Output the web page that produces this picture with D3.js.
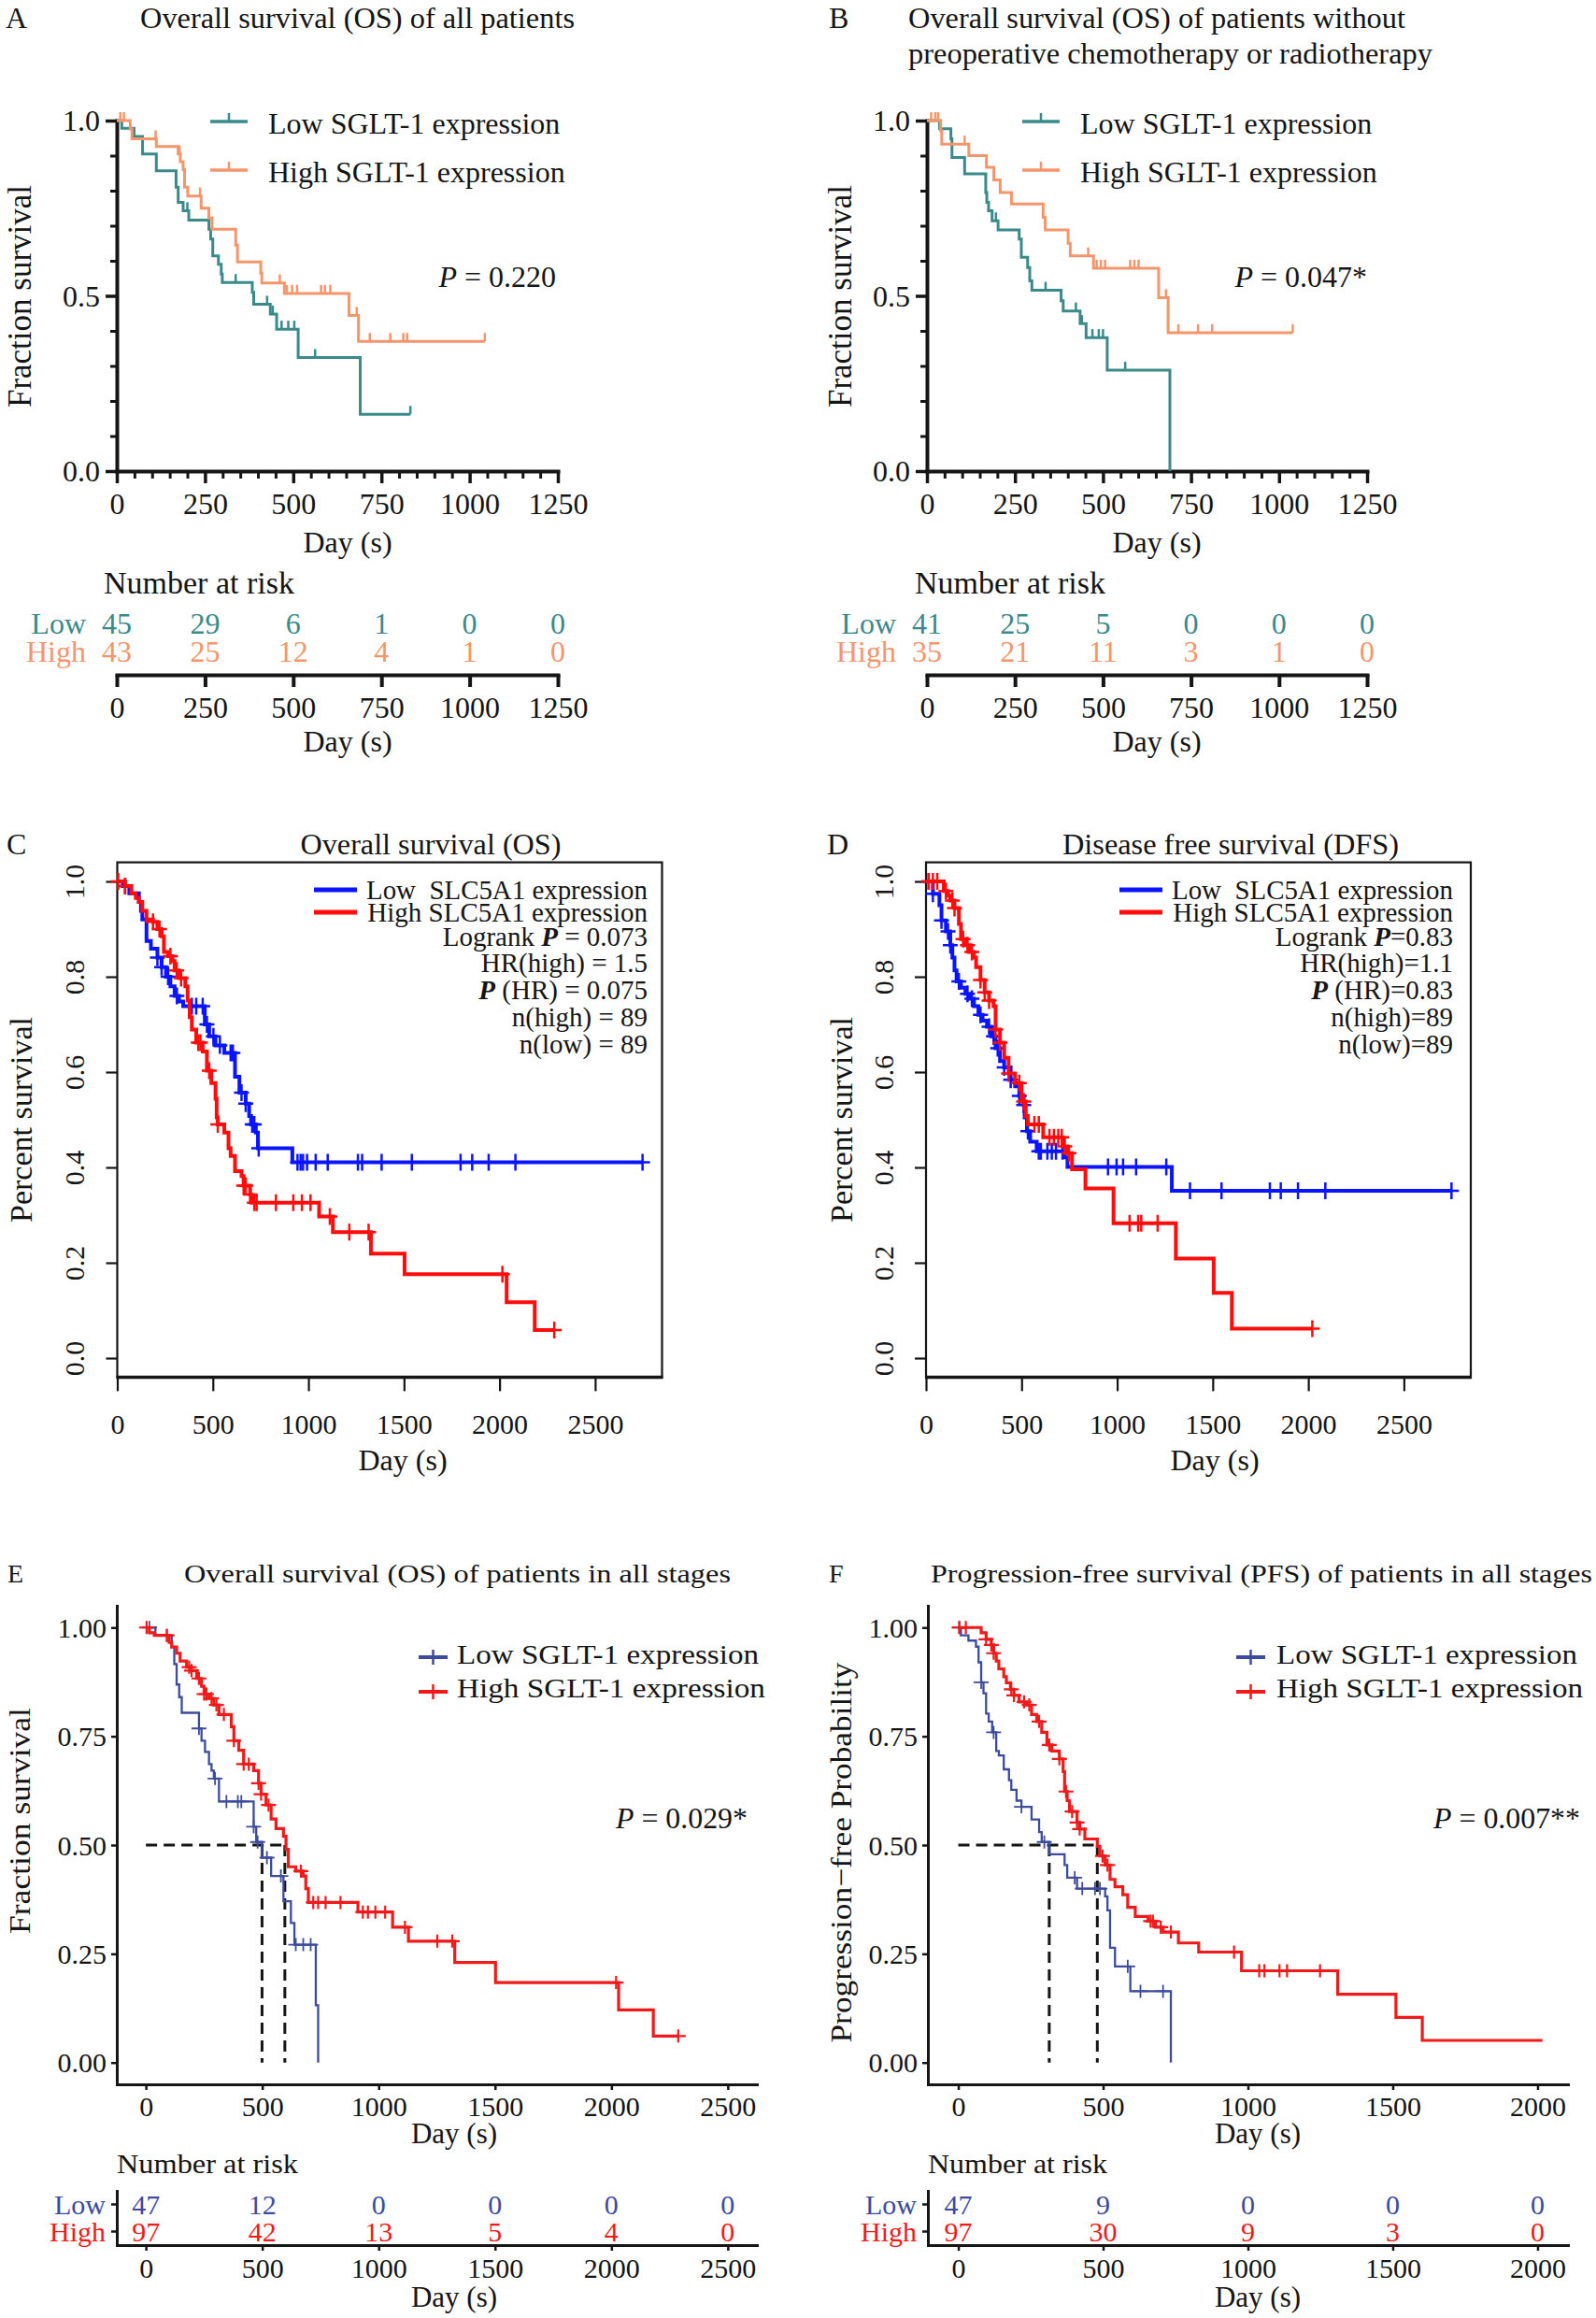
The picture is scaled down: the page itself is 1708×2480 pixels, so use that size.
<!DOCTYPE html>
<html><head><meta charset="utf-8">
<script src="https://cdn.jsdelivr.net/npm/d3@7"></script>
<style>body{margin:0;background:#fff}</style>
</head><body>
<svg id="fig" width="1708" height="2480" style="background:#fff"></svg>
<script>
// ================= DATA =================
// Panel A – Overall survival of all patients
const A_lowT  = [14,49,73,112,168,174,188,204,261,266,272,288,296,299,384,388,435,453,514,690];
const A_lowS  = [0.978,0.955,0.905,0.857,0.81,0.767,0.743,0.716,0.69,0.662,0.614,0.59,0.562,0.538,0.51,0.476,0.448,0.405,0.324,0.162];
const A_lowC  = [200,337,426,442,467,486,503,562,832];
const A_lowEnd = 832;
const A_highT = [38,43,112,174,180,188,192,201,239,261,270,337,342,408,411,475,658,685];
const A_highS = [0.976,0.948,0.926,0.905,0.883,0.86,0.81,0.785,0.75,0.722,0.69,0.645,0.597,0.565,0.537,0.507,0.444,0.37];
const A_highC = [10,20,110,178,236,462,482,497,511,579,590,605,680,717,775,812,823,1043];
const A_highEnd = 1043;
// Panel B – OS without preoperative therapy
const B_lowT  = [36,68,71,107,167,170,175,185,202,262,268,286,292,298,381,387,435,452,512,690];
const B_lowS  = [0.977,0.948,0.895,0.848,0.795,0.767,0.743,0.714,0.688,0.662,0.61,0.581,0.543,0.516,0.486,0.457,0.421,0.381,0.288,0];
const B_lowC  = [196,337,423,440,470,488,500,563];
const B_lowEnd = 690;
const B_highT = [39,42,119,169,190,208,240,330,336,401,407,473,658,685];
const B_highS = [0.971,0.933,0.9,0.867,0.831,0.795,0.762,0.724,0.688,0.65,0.614,0.579,0.495,0.395];
const B_highC = [12,24,32,107,458,482,494,506,577,589,601,679,714,770,810,1039];
const B_highEnd = 1039;
// risk tables A/B
const riskTicksAB = [0,250,500,750,1000,1250];
const A_riskLow  = [45,29,6,1,0,0];
const A_riskHigh = [43,25,12,4,1,0];
const B_riskLow  = [41,25,5,0,0,0];
const B_riskHigh = [35,21,11,3,1,0];
const minorTicksAB = [50,100,150,200,300,350,400,450,550,600,650,700,800,850,900,950,1050,1100,1150,1200];
const yMajorAB = [0,0.5,1];
const yMinorAB = [0.1,0.2,0.3,0.4,0.6,0.7,0.8,0.9];
const pValues = ["0.220","0.047*","0.029*","0.007**"];

// Panel C – OS (SLC5A1)
const C_lowT  = [29,63,113,124,131,153,176,210,232,255,278,300,323,345,458,481,514,560,616,639,672,690,700,725,736,916];
const C_lowS  = [0.99,0.975,0.957,0.938,0.92,0.875,0.859,0.84,0.82,0.8,0.78,0.76,0.748,0.738,0.7,0.675,0.656,0.64,0.59,0.557,0.534,0.508,0.49,0.473,0.44,0.411];
const C_lowC  = [41,210,232,266,312,390,413,447,469,503,537,593,605,650,672,706,717,740,943,959,972,993,1038,1101,1259,1281,1383,1541,1796,1857,1943,2083,2748];
const C_lowEnd = 2748;
const C_highT = [41,74,97,113,131,153,187,210,232,244,266,289,300,323,356,368,379,390,413,447,469,492,514,520,526,560,582,593,616,650,661,695,702,1056,1128,1327,1503,2037,2184];
const C_highS = [0.99,0.975,0.965,0.957,0.938,0.92,0.915,0.9,0.885,0.852,0.843,0.833,0.813,0.797,0.78,0.75,0.715,0.689,0.662,0.643,0.603,0.577,0.544,0.505,0.49,0.473,0.44,0.424,0.392,0.382,0.362,0.343,0.326,0.297,0.264,0.219,0.176,0.117,0.059];
const C_highC = [5,41,187,221,278,311,334,424,435,481,526,661,672,695,717,729,830,921,966,1011,1112,1214,1315,2015,2286];
const C_highEnd = 2286;
const C_stats = ["0.073","1.5","0.075","89","89"];
// Panel D – DFS (SLC5A1)
const D_lowT  = [36,70,81,104,127,138,149,160,183,206,228,251,274,296,319,341,364,387,409,443,466,488,511,516,528,545,579,726,740,1286];
const D_lowS  = [0.974,0.95,0.918,0.895,0.866,0.84,0.813,0.79,0.777,0.764,0.754,0.738,0.72,0.708,0.695,0.675,0.65,0.623,0.61,0.584,0.57,0.55,0.531,0.505,0.476,0.454,0.434,0.421,0.401,0.351];
const D_lowC  = [14,36,81,115,127,172,217,240,285,330,353,375,409,443,488,511,533,590,601,635,658,680,714,952,997,1031,1099,1257,1381,1546,1799,1856,1946,2089,2749];
const D_lowEnd = 2749;
const D_highT = [93,115,127,149,172,183,206,228,251,262,285,307,330,353,364,387,409,432,466,500,522,533,613,714,737,764,834,981,1307,1505,1600];
const D_highS = [0.98,0.97,0.96,0.944,0.911,0.879,0.866,0.852,0.84,0.82,0.793,0.767,0.75,0.738,0.689,0.662,0.63,0.597,0.577,0.538,0.508,0.49,0.463,0.444,0.43,0.396,0.356,0.283,0.209,0.137,0.062];
const D_highC = [14,36,59,104,138,149,194,217,240,285,307,330,364,387,432,488,511,567,590,646,669,692,710,726,748,1065,1110,1126,1212,2021];
const D_highEnd = 2021;
const D_stats = ["0.83","1.1","0.83","89","89"];
const xTicksCD = [0,500,1000,1500,2000,2500];
const yTicksCD = [0,0.2,0.4,0.6,0.8,1.0];

// Panel E – OS all stages
const E_lowT  = [41,111,122,132,143,154,228,239,254,271,282,292,314,463,474,498,538,591,623,638,730,740];
const E_lowS  = [0.982,0.955,0.916,0.869,0.84,0.804,0.768,0.74,0.714,0.686,0.671,0.653,0.6,0.542,0.507,0.471,0.429,0.371,0.321,0.271,0.132,0];
const E_lowC  = [15,90,228,297,346,395,410,463,480,520,580,644,676,708];
const E_lowEnd = 740;
const E_highT = [15,36,100,111,132,147,175,196,218,239,250,271,292,314,367,378,399,420,463,484,495,516,538,559,591,602,612,644,676,687,698,911,1060,1128,1327,1502,2031,2180];
const E_highS = [0.988,0.982,0.966,0.955,0.941,0.923,0.909,0.901,0.883,0.865,0.847,0.837,0.822,0.8,0.772,0.74,0.718,0.686,0.671,0.642,0.617,0.592,0.56,0.538,0.52,0.49,0.45,0.44,0.429,0.4,0.368,0.346,0.311,0.279,0.23,0.184,0.121,0.061];
const E_highC = [3,90,186,196,228,250,260,282,303,335,378,420,442,484,495,527,666,719,740,772,836,932,954,986,1028,1113,1252,1316,2020,2287];
const E_highEnd = 2287;
const E_medians = [499,597];
const riskTicksE = [0,500,1000,1500,2000,2500];
const E_riskLow  = [47,12,0,0,0,0];
const E_riskHigh = [97,42,13,5,4,0];
// Panel F – PFS all stages
const F_lowT  = [9,35,61,70,79,87,96,105,117,131,140,157,175,183,201,218,253,279,288,314,367,376,410,507,515,524,541,594,734];
const F_lowS  = [0.982,0.97,0.956,0.92,0.874,0.849,0.802,0.784,0.759,0.716,0.706,0.674,0.649,0.627,0.602,0.588,0.559,0.53,0.507,0.479,0.454,0.425,0.4,0.382,0.35,0.264,0.221,0.164,0];
const F_lowC  = [4,79,122,218,297,402,428,472,489,585,629,707];
const F_lowEnd = 734;
const F_highT = [79,96,114,122,131,140,157,166,180,192,210,236,253,271,288,306,323,349,362,367,376,384,410,419,437,480,489,507,524,541,568,585,611,655,681,707,760,830,978,1310,1511,1602];
const F_highS = [0.988,0.973,0.96,0.941,0.923,0.905,0.887,0.873,0.858,0.844,0.829,0.822,0.8,0.784,0.759,0.73,0.716,0.698,0.669,0.623,0.602,0.577,0.552,0.537,0.514,0.497,0.475,0.454,0.421,0.404,0.386,0.357,0.336,0.325,0.311,0.3,0.275,0.254,0.211,0.157,0.104,0.051];
const F_highC = [3,26,96,114,122,183,192,227,245,279,314,349,372,393,410,419,498,515,664,672,699,734,952,1039,1057,1109,1135,1249];
const F_highEnd = 2017;
const F_medians = [314,480];
const riskTicksF = [0,500,1000,1500,2000];
const F_riskLow  = [47,9,0,0,0];
const F_riskHigh = [97,30,9,3,0];
const yTicksEF = [0,0.25,0.5,0.75,1];

// ================= STYLE =================
const FONT = '"Liberation Serif","Times New Roman",Times,serif';
const INK = "#151515";
const TEAL = "#3a8a8c", ORANGE = "#f4956b";
const BLUE_R = "#0a14ff", RED_R = "#ff0c0c";
const BLUE_G = "#3c4b9e", RED_G = "#f01a1a";
const fmtInt = d3.format("d");
const svg = d3.select("#fig");

function txt(g, x, y, content, o = {}) {
  const fs = o.fs || 30;
  const t = g.append("text").attr("x", x).attr("y", y + 0.34 * fs)
    .attr("font-family", FONT).attr("font-size", fs)
    .attr("text-anchor", o.anchor || "start").attr("fill", o.fill || INK)
    .style("white-space", "pre");
  if (o.rot) t.attr("transform", `rotate(-90 ${x} ${y})`);
  const parts = typeof content === "string" ? [content] : content;
  parts.forEach(p => {
    const s = typeof p === "string" ? [p] : p;
    const ts = t.append("tspan").text(s[0]);
    if (s[1] === "i") ts.attr("font-style", "italic");
    if (s[1] === "bi") ts.attr("font-style", "italic").attr("font-weight", "bold");
  });
  if (o.len) t.attr("textLength", o.len).attr("lengthAdjust", "spacingAndGlyphs");
  return t;
}
function styleAxis(ax, dw, tw, fs) {
  ax.attr("font-family", FONT);
  ax.select(".domain").attr("stroke", INK).attr("stroke-width", dw).attr("stroke-linecap", "square");
  ax.selectAll(".tick line").attr("stroke", INK).attr("stroke-width", tw);
  ax.selectAll(".tick text").attr("font-size", fs).attr("fill", INK).attr("font-family", FONT);
}
function survAt(T, S, c) { let s = 1; for (let i = 0; i < T.length; i++) { if (T[i] <= c) s = S[i]; else break; } return s; }
function km(g, xs, ys, T, S, C, end, st) {
  const pts = [[0, 1], ...T.map((t, i) => [t, S[i]]), [end, S[S.length - 1]]];
  const line = d3.line().x(d => xs(d[0])).y(d => ys(d[1])).curve(d3.curveStepAfter);
  g.append("path").attr("d", line(pts)).attr("fill", "none").attr("stroke", st.color)
    .attr("stroke-width", st.w).attr("stroke-linejoin", "miter");
  g.append("g").selectAll("path").data(C).join("path")
    .attr("transform", c => `translate(${xs(c)},${ys(survAt(T, S, c))})`)
    .attr("d", st.mark).attr("fill", "none").attr("stroke", st.color).attr("stroke-width", st.mw);
}

// ---------- Prism style (A,B) ----------
function prismAxes(g, xs, ys) {
  const y0 = ys(0), x0 = xs(0);
  g.append("g").attr("transform", `translate(0,${y0})`)
    .call(d3.axisBottom(xs).tickValues(minorTicksAB).tickSize(8).tickFormat(() => "").tickSizeOuter(0))
    .call(s => { s.select(".domain").remove(); s.selectAll("line").attr("stroke", INK).attr("stroke-width", 3); });
  const ax = g.append("g").attr("transform", `translate(0,${y0})`)
    .call(d3.axisBottom(xs).tickValues(riskTicksAB).tickSize(13).tickFormat(fmtInt).tickSizeOuter(0));
  styleAxis(ax, 4, 3.5, 32);
  ax.selectAll(".tick text").attr("y", 35).attr("dy", "0.34em");
  g.append("g").attr("transform", `translate(${x0},0)`)
    .call(d3.axisLeft(ys).tickValues(yMinorAB).tickSize(7).tickFormat(() => "").tickSizeOuter(0))
    .call(s => { s.select(".domain").remove(); s.selectAll("line").attr("stroke", INK).attr("stroke-width", 3); });
  const ay = g.append("g").attr("transform", `translate(${x0},0)`)
    .call(d3.axisLeft(ys).tickValues(yMajorAB).tickSize(12).tickFormat(d3.format(".1f")).tickSizeOuter(0));
  styleAxis(ay, 4, 3.5, 32);
  ay.selectAll(".tick text").attr("x", -18).attr("dy", "0.34em");
}
function prismLegend(g, x0, x1, tx) {
  [["Low SGLT-1 expression", TEAL, 130], ["High SGLT-1 expression", ORANGE, 182]].forEach(([lab, col, y]) => {
    g.append("line").attr("x1", x0).attr("x2", x1).attr("y1", y).attr("y2", y).attr("stroke", col).attr("stroke-width", 3.5);
    g.append("line").attr("x1", (x0 + x1) / 2).attr("x2", (x0 + x1) / 2).attr("y1", y).attr("y2", y - 9).attr("stroke", col).attr("stroke-width", 2.5);
    txt(g, tx, y + 2, lab, { fs: 32 });
  });
}
function prismRisk(g, xs, low, high, labX, nX, dayX) {
  txt(g, nX, 623, "Number at risk", { fs: 34 });
  const rows = d3.scaleBand().domain(["Low", "High"]).range([652, 712]);
  [["Low", low, TEAL], ["High", high, ORANGE]].forEach(([k, vals, col]) => {
    const yy = rows(k) + rows.bandwidth() / 2;
    txt(g, labX, yy, k, { fs: 32, anchor: "end", fill: col });
    vals.forEach((v, j) => txt(g, xs(riskTicksAB[j]), yy, String(v), { fs: 32, anchor: "middle", fill: col }));
  });
  const ax = g.append("g").attr("transform", "translate(0,722)")
    .call(d3.axisBottom(xs).tickValues(riskTicksAB).tickSize(13).tickFormat(fmtInt).tickSizeOuter(0));
  styleAxis(ax, 4, 4, 32);
  ax.selectAll(".tick text").attr("y", 35).attr("dy", "0.34em");
  txt(g, dayX, 793, "Day (s)", { fs: 32, anchor: "middle" });
}
const prismLow = { color: TEAL, w: 3, mark: "M0,0V-9", mw: 2.5 };
const prismHigh = { color: ORANGE, w: 3, mark: "M0,0V-9", mw: 2.5 };

// Panel A
const xA = d3.scaleLinear().domain([0, 1250]).range([125, 597]);
const yA = d3.scaleLinear().domain([0, 1]).range([504, 129]);
const gA = svg.append("g");
prismAxes(gA, xA, yA);
km(gA, xA, yA, A_lowT, A_lowS, A_lowC, A_lowEnd, prismLow);
km(gA, xA, yA, A_highT, A_highS, A_highC, A_highEnd, prismHigh);
prismLegend(gA, 225, 265, 287);
txt(gA, 595, 296, [["P", "i"], " = " + pValues[0]], { fs: 32, anchor: "end" });
txt(gA, 21, 317, "Fraction survival", { fs: 35, anchor: "middle", rot: true });
txt(gA, 372, 580, "Day (s)", { fs: 32, anchor: "middle" });
txt(gA, 6, 19, "A", { fs: 32 });
txt(gA, 150, 19, "Overall survival (OS) of all patients", { fs: 32, len: 465 });
prismRisk(gA, xA, A_riskLow, A_riskHigh, 92, 111, 372);

// Panel B
const xB = d3.scaleLinear().domain([0, 1250]).range([992, 1463]);
const yB = yA;
const gB = svg.append("g");
prismAxes(gB, xB, yB);
km(gB, xB, yB, B_lowT, B_lowS, B_lowC, B_lowEnd, prismLow);
km(gB, xB, yB, B_highT, B_highS, B_highC, B_highEnd, prismHigh);
prismLegend(gB, 1094, 1134, 1156);
txt(gB, 1463, 296, [["P", "i"], " = " + pValues[1]], { fs: 32, anchor: "end" });
txt(gB, 899, 317, "Fraction survival", { fs: 35, anchor: "middle", rot: true });
txt(gB, 1238, 580, "Day (s)", { fs: 32, anchor: "middle" });
txt(gB, 887, 19, "B", { fs: 32 });
txt(gB, 972, 19, "Overall survival (OS) of patients without", { fs: 32, len: 532 });
txt(gB, 972, 57, "preoperative chemotherapy or radiotherapy", { fs: 32, len: 561 });
prismRisk(gB, xB, B_riskLow, B_riskHigh, 959, 979, 1238);

// ---------- R style (C,D) ----------
function rAxes(g, xs, ys, labOff) {
  const [x0, x1] = xs.range(); const [y1, y0] = ys.range();
  g.append("rect").attr("x", x0).attr("y", y0).attr("width", x1 - x0).attr("height", y1 - y0)
    .attr("fill", "none").attr("stroke", INK).attr("stroke-width", 2.2);
  g.append("line").attr("x1", x0 - 1).attr("x2", x1 + 1).attr("y1", y1).attr("y2", y1).attr("stroke", INK).attr("stroke-width", 3.5);
  const ax = g.append("g").attr("transform", `translate(0,${y1})`)
    .call(d3.axisBottom(xs).tickValues(xTicksCD).tickSize(15).tickFormat(fmtInt).tickSizeOuter(0));
  styleAxis(ax, 0, 2.2, 30); ax.select(".domain").remove();
  ax.selectAll(".tick text").attr("y", 50).attr("dy", "0.34em");
  const ay = g.append("g").attr("transform", `translate(${x0},0)`)
    .call(d3.axisLeft(ys).tickValues(yTicksCD).tickSize(12).tickFormat(d3.format(".1f")).tickSizeOuter(0));
  styleAxis(ay, 0, 2.2, 30); ay.select(".domain").remove();
  ay.selectAll(".tick text").attr("x", 0).attr("y", labOff + 0.34 * 30).attr("dy", null)
    .attr("text-anchor", "middle").attr("transform", "rotate(-90)");
}
const rRows = [952, 976, 1002, 1030, 1059, 1088, 1117];
function rLegend(g, lx0, lx1, tx, right, statLines) {
  [[BLUE_R, rRows[0]], [RED_R, rRows[1]]].forEach(([c, y]) =>
    g.append("line").attr("x1", lx0).attr("x2", lx1).attr("y1", y).attr("y2", y).attr("stroke", c).attr("stroke-width", 5));
  txt(g, tx, rRows[0], "Low  SLC5A1 expression", { fs: 29, len: right - tx });
  txt(g, right, rRows[1], "High SLC5A1 expression", { fs: 29, anchor: "end" });
  statLines.forEach((l, i) => txt(g, right, rRows[i + 2], l, { fs: 29, anchor: "end" }));
}
const rLow = { color: BLUE_R, w: 4, mark: "M-8,0H8M0,-9V9", mw: 2.5 };
const rHigh = { color: RED_R, w: 4, mark: "M-8,0H8M0,-9V9", mw: 2.5 };

// Panel C
const xC = d3.scaleLinear().domain([0, 2850]).range([125.5, 708.5]);
const yC = d3.scaleLinear().domain([-0.04, 1.04]).range([1473.4, 922.6]);
const gC = svg.append("g");
rAxes(gC, xC, yC, -45.5);
km(gC, xC, yC, C_lowT, C_lowS, C_lowC, C_lowEnd, rLow);
km(gC, xC, yC, C_highT, C_highS, C_highC, C_highEnd, rHigh);
rLegend(gC, 336, 382, 392, 693, [
  ["Logrank ", ["P", "bi"], " = " + C_stats[0]],
  ["HR(high) = " + C_stats[1]],
  [["P", "bi"], " (HR) = " + C_stats[2]],
  ["n(high) = " + C_stats[3]],
  ["n(low) = " + C_stats[4]]]);
txt(gC, 22, 1198, "Percent survival", { fs: 34, anchor: "middle", rot: true });
txt(gC, 431, 1562, "Day (s)", { fs: 32, anchor: "middle" });
txt(gC, 7, 903, "C", { fs: 32 });
txt(gC, 461, 903, "Overall survival (OS)", { fs: 32, anchor: "middle", len: 279 });

// Panel D
const xD = d3.scaleLinear().domain([0, 2850]).range([991, 1574]);
const yD = yC;
const gD = svg.append("g");
rAxes(gD, xD, yD, -45);
km(gD, xD, yD, D_lowT, D_lowS, D_lowC, D_lowEnd, rLow);
km(gD, xD, yD, D_highT, D_highS, D_highC, D_highEnd, rHigh);
rLegend(gD, 1198, 1244, 1254, 1555, [
  ["Logrank ", ["P", "bi"], "=" + D_stats[0]],
  ["HR(high)=" + D_stats[1]],
  [["P", "bi"], " (HR)=" + D_stats[2]],
  ["n(high)=" + D_stats[3]],
  ["n(low)=" + D_stats[4]]]);
txt(gD, 900, 1198, "Percent survival", { fs: 34, anchor: "middle", rot: true });
txt(gD, 1300, 1562, "Day (s)", { fs: 32, anchor: "middle" });
txt(gD, 885, 903, "D", { fs: 32 });
txt(gD, 1317, 903, "Disease free survival (DFS)", { fs: 32, anchor: "middle", len: 360 });

// ---------- ggplot / survminer style (E,F) ----------
function ggAxes(g, xs, ys, xticks) {
  const ax = g.append("g").attr("transform", `translate(0,${ys.range()[0]})`)
    .call(d3.axisBottom(xs).tickValues(xticks).tickSize(6).tickFormat(fmtInt).tickSizeOuter(0));
  styleAxis(ax, 3, 2.5, 30);
  ax.selectAll(".tick text").attr("y", 24).attr("dy", "0.34em");
  const ay = g.append("g").attr("transform", `translate(${xs.range()[0]},0)`)
    .call(d3.axisLeft(ys).tickValues(yTicksEF).tickSize(6).tickFormat(d3.format(".2f")).tickSizeOuter(0));
  styleAxis(ay, 3, 2.5, 30);
  ay.selectAll(".tick text").attr("x", -11).attr("dy", "0.34em");
}
function ggMedian(g, xs, ys, meds) {
  const ln = d3.line().x(d => xs(d[0])).y(d => ys(d[1]));
  g.append("path").attr("d", ln([[0, 0.5], [d3.max(meds), 0.5]])).attr("stroke", INK).attr("stroke-width", 3).attr("stroke-dasharray", "12,7").attr("fill", "none");
  meds.forEach(m => g.append("path").attr("d", ln([[m, 0.5], [m, 0]])).attr("stroke", INK).attr("stroke-width", 3).attr("stroke-dasharray", "12,7").attr("fill", "none"));
}
function ggLegend(g, lx0, lx1, tx, lens) {
  [["Low SGLT-1 expression", BLUE_G, 1773, 1770, lens[0]], ["High SGLT-1 expression", RED_G, 1810, 1806, lens[1]]].forEach(([lab, col, y, ty, len]) => {
    g.append("line").attr("x1", lx0).attr("x2", lx1).attr("y1", y).attr("y2", y).attr("stroke", col).attr("stroke-width", 4);
    g.append("line").attr("x1", (lx0 + lx1) / 2).attr("x2", (lx0 + lx1) / 2).attr("y1", y - 8).attr("y2", y + 8).attr("stroke", col).attr("stroke-width", 2.5);
    txt(g, tx, ty, lab, { fs: 29, len: len });
  });
}
function ggRisk(g, xs, ticks, low, high, nLen, dayX) {
  const x0 = xs.range()[0];
  txt(g, x0, 2315, "Number at risk", { fs: 30, len: nLen });
  const rows = d3.scaleBand().domain(["Low", "High"]).range([2344, 2402]);
  const ay = g.append("g").attr("transform", `translate(${x0},0)`)
    .call(d3.axisLeft(rows).tickSize(6).tickSizeOuter(0));
  styleAxis(ay, 3, 2.5, 30);
  ay.selectAll(".tick text").attr("x", -12).attr("dy", "0.34em").attr("fill", d => d === "Low" ? BLUE_G : RED_G);
  [["Low", low, BLUE_G], ["High", high, RED_G]].forEach(([k, vals, col]) => {
    const yy = rows(k) + rows.bandwidth() / 2;
    vals.forEach((v, j) => txt(g, xs(ticks[j]), yy, String(v), { fs: 30, anchor: "middle", fill: col }));
  });
  const ax = g.append("g").attr("transform", "translate(0,2402)")
    .call(d3.axisBottom(xs).tickValues(ticks).tickSize(6).tickFormat(fmtInt).tickSizeOuter(0));
  styleAxis(ax, 3, 2.5, 30);
  ax.selectAll(".tick text").attr("y", 25).attr("dy", "0.34em");
  txt(g, dayX, 2457, "Day (s)", { fs: 31, anchor: "middle" });
}
const ggLow = { color: BLUE_G, w: 2.3, mark: "M-8,0H8M0,-7V7", mw: 1.8 };
const ggHigh = { color: RED_G, w: 3.2, mark: "M-8,0H8M0,-7V7", mw: 2.2 };

// Panel E
const xE = d3.scaleLinear().domain([-125, 2625]).range([125, 810]);
const yE = d3.scaleLinear().domain([-0.05, 1.05]).range([2230, 1718]);
const gE = svg.append("g");
ggAxes(gE, xE, yE, riskTicksE);
ggMedian(gE, xE, yE, E_medians);
km(gE, xE, yE, E_lowT, E_lowS, E_lowC, E_lowEnd, ggLow);
km(gE, xE, yE, E_highT, E_highS, E_highC, E_highEnd, ggHigh);
ggLegend(gE, 448, 479, 489, [323, 330]);
txt(gE, 800, 1945, [["P", "i"], " = " + pValues[2]], { fs: 31, anchor: "end", len: 141 });
txt(gE, 21, 1948, "Fraction survival", { fs: 32, anchor: "middle", rot: true, len: 242 });
txt(gE, 486, 2282, "Day (s)", { fs: 31, anchor: "middle" });
txt(gE, 8, 1683, "E", { fs: 28 });
txt(gE, 197, 1683, "Overall survival (OS) of patients in all stages", { fs: 28, len: 585 });
ggRisk(gE, xE, riskTicksE, E_riskLow, E_riskHigh, 194, 486);

// Panel F
const xF = d3.scaleLinear().domain([-105, 2105]).range([993, 1678]);
const yF = yE;
const gF = svg.append("g");
ggAxes(gF, xF, yF, riskTicksF);
ggMedian(gF, xF, yF, F_medians);
km(gF, xF, yF, F_lowT, F_lowS, F_lowC, F_lowEnd, ggLow);
km(gF, xF, yF, F_highT, F_highS, F_highC, F_highEnd, ggHigh);
ggLegend(gF, 1323, 1354, 1366, [322, 328]);
txt(gF, 1691, 1945, [["P", "i"], " = " + pValues[3]], { fs: 31, anchor: "end", len: 157 });
txt(gF, 900, 1982, "Progression\u2212free Probability", { fs: 32, anchor: "middle", rot: true, len: 407 });
txt(gF, 1346, 2282, "Day (s)", { fs: 31, anchor: "middle" });
txt(gF, 887, 1683, "F", { fs: 28 });
txt(gF, 996, 1683, "Progression-free survival (PFS) of patients in all stages", { fs: 28, len: 708 });
ggRisk(gF, xF, riskTicksF, F_riskLow, F_riskHigh, 192, 1346);
</script>
</body></html>
